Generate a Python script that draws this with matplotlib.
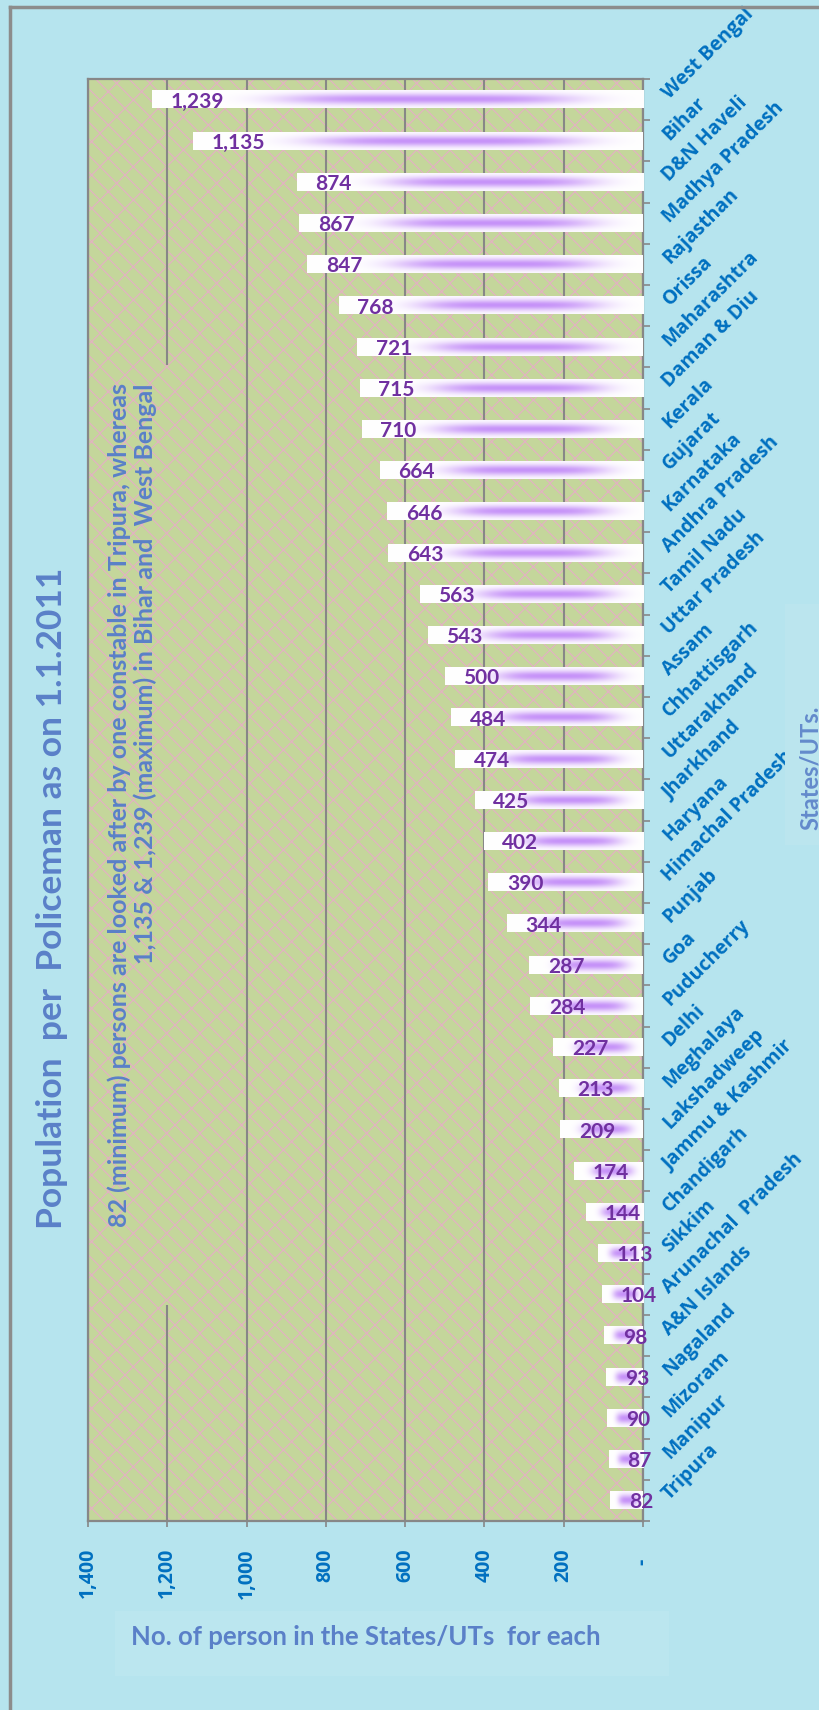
import numpy as np
import matplotlib
matplotlib.use("Agg")
import matplotlib.pyplot as plt
from matplotlib.patches import Rectangle
from matplotlib.lines import Line2D

# ---------------- data ----------------
states = ["West Bengal", "Bihar", "D&N Haveli", "Madhya Pradesh", "Rajasthan",
          "Orissa", "Maharashtra", "Daman & Diu", "Kerala", "Gujarat",
          "Karnataka", "Andhra Pradesh", "Tamil Nadu", "Uttar Pradesh", "Assam",
          "Chhattisgarh", "Uttarakhand", "Jharkhand", "Haryana", "Himachal Pradesh",
          "Punjab", "Goa", "Puducherry", "Delhi", "Meghalaya",
          "Lakshadweep", "Jammu & Kashmir", "Chandigarh", "Sikkim", "Arunachal  Pradesh",
          "A&N Islands", "Nagaland", "Mizoram", "Manipur", "Tripura"]
values = [1239, 1135, 874, 867, 847, 768, 721, 715, 710, 664,
          646, 643, 563, 543, 500, 484, 474, 425, 402, 390,
          344, 287, 284, 227, 213, 209, 174, 144, 113, 104,
          98, 93, 90, 87, 82]
x_ticks = [0, 200, 400, 600, 800, 1000, 1200, 1400]
x_tick_labels = ["-  ", "200", "400", "600", "800", "1,000", "1,200", "1,400"]

title = "Population  per  Policeman as on 1.1.2011"
note = ("82 (minimum) persons are looked after by one constable in Tripura, whereas\n"
        "1,135 & 1,239 (maximum) in Bihar and  West Bengal")
x_label = "No. of person in the States/UTs  for each"
y_label = "States/UTs."

# ---------------- style ----------------
W, H = 820, 1710
BG = "#B6E4EE"
PLOT_BG = "#C4D69B"
HATCH = "#E4B0C4"
GRID = "#878787"
BLUE = "#0070C0"
TITLE_BLUE = "#5A80C8"
PURPLE = "#7030A0"
BAR_PURPLE = np.array([198, 146, 248]) / 255.0

plt.rcParams["hatch.color"] = HATCH
plt.rcParams["hatch.linewidth"] = 0.8

fig = plt.figure(figsize=(W / 100, H / 100), dpi=100)
fig.patch.set_facecolor(BG)

def fx(px):
    return px / W

def fy(py):
    return 1 - py / H

ax = fig.add_axes([fx(88), fy(1521), fx(643) - fx(88), fy(79) - fy(1521)])
ax.set_facecolor(PLOT_BG)
ax.add_patch(Rectangle((0, 0), 1, 1, transform=ax.transAxes, facecolor=PLOT_BG,
                       edgecolor=HATCH, hatch="x\\", linewidth=0, zorder=0.1))

n = len(states)
ypos = np.arange(n)
bar_h = 0.43

bars = ax.barh(ypos, values, height=bar_h, color="white", edgecolor="none", zorder=2)

# gradient fill inside each bar
u = np.linspace(0, 1, 300)
v = np.linspace(-1, 1, 40)
fu = np.exp(-((u - 0.56) / 0.30) ** 4)
gv = np.exp(-(v / 0.62) ** 2)
inten = gv[:, None] * fu[None, :]
img = 1 - inten[..., None] * (1 - BAR_PURPLE[None, None, :])
for rect in bars:
    x0 = rect.get_width()
    yc = rect.get_y() + rect.get_height() / 2
    ax.imshow(img, extent=(x0, 0, yc + bar_h / 2, yc - bar_h / 2),
              aspect="auto", interpolation="bilinear", zorder=3)

for val, y in zip(values, ypos):
    ax.annotate(f"{val:,}", xy=(val, y), xytext=(13.5, 0), textcoords="offset points",
                ha="left", va="center_baseline", fontsize=15, fontweight="bold",
                family="Lato", color=PURPLE, zorder=5)

ax.set_xlim(1400, 0)
ax.set_ylim(n - 0.5, -0.5)

# grid
ax.set_axisbelow(True)
ax.xaxis.grid(True, color=GRID, linewidth=1.5)
ax.yaxis.grid(False)

# cover for note (hides the 1200 gridline)
ax.add_patch(Rectangle((0, (1521 - 1305) / 1442), 0.16, (1305 - 365) / 1442,
                       transform=ax.transAxes, facecolor=PLOT_BG, edgecolor=HATCH,
                       hatch="x\\", linewidth=0, zorder=0.8))

for s in ax.spines.values():
    s.set_color(GRID)
    s.set_linewidth(1.6)

# x axis
ax.set_xticks(x_ticks)
ax.set_xticklabels(x_tick_labels, rotation=90, fontsize=14, fontweight="bold",
                   family="Open Sans", color=BLUE, va="top", ha="center")
ax.tick_params(axis="x", length=4.5, width=1.2, color=GRID, pad=15)

# y axis on the right
ax.yaxis.tick_right()
ax.set_yticks(ypos)
ax.set_yticks(np.arange(-0.5, n, 1.0), minor=True)
ax.set_yticklabels(states, fontsize=14, fontweight="bold", family="Open Sans",
                   color=BLUE)
for lab in ax.get_yticklabels():
    lab.set_rotation(45)
    lab.set_rotation_mode("anchor")
    lab.set_ha("left")
    lab.set_va("baseline")
ax.tick_params(axis="y", which="major", length=0, pad=19)
ax.tick_params(axis="y", which="minor", length=5, width=1.2, color=GRID,
               right=True, left=False)

# title and note
fig.text(fx(52), fy(898), title, rotation=90, ha="center", va="center",
         fontsize=25.5, fontweight="bold", family="Lato", color=TITLE_BLUE)
fig.text(fx(132), fy(383), note, rotation=90, ha="center", va="top",
         multialignment="right", linespacing=1.15,
         fontsize=18, fontweight="bold", family="Lato", color=TITLE_BLUE)

# x label with faint box
fig.add_artist(Rectangle((fx(115), fy(1676)), fx(669) - fx(115), fy(1611) - fy(1676),
                         transform=fig.transFigure, facecolor="white", alpha=0.08,
                         edgecolor="none", zorder=1))
fig.text(fx(131), fy(1637), x_label, ha="left", va="center", fontsize=18.5,
         fontweight="bold", family="Lato", color=TITLE_BLUE, zorder=2)

# y label box (opaque, covers long tick label)
fig.add_artist(Rectangle((fx(785), fy(845)), fx(820) - fx(785), fy(604) - fy(845),
                         transform=fig.transFigure, facecolor="#BBE5EE",
                         edgecolor="none", zorder=5))
fig.text(fx(810), fy(768), y_label, rotation=90, ha="center", va="center",
         fontsize=17, fontweight="bold", family="Lato", color=TITLE_BLUE,
         alpha=0.9, zorder=6)

# outer frame (left and top)
fig.add_artist(Line2D([fx(10), fx(10)], [0, fy(7)], transform=fig.transFigure,
                      color="#8C8C8C", linewidth=2.5, zorder=7))
fig.add_artist(Line2D([fx(10), 1], [fy(7), fy(7)], transform=fig.transFigure,
                      color="#8C8C8C", linewidth=2.5, zorder=7))

fig.savefig("out.png", dpi=100, facecolor=BG)
